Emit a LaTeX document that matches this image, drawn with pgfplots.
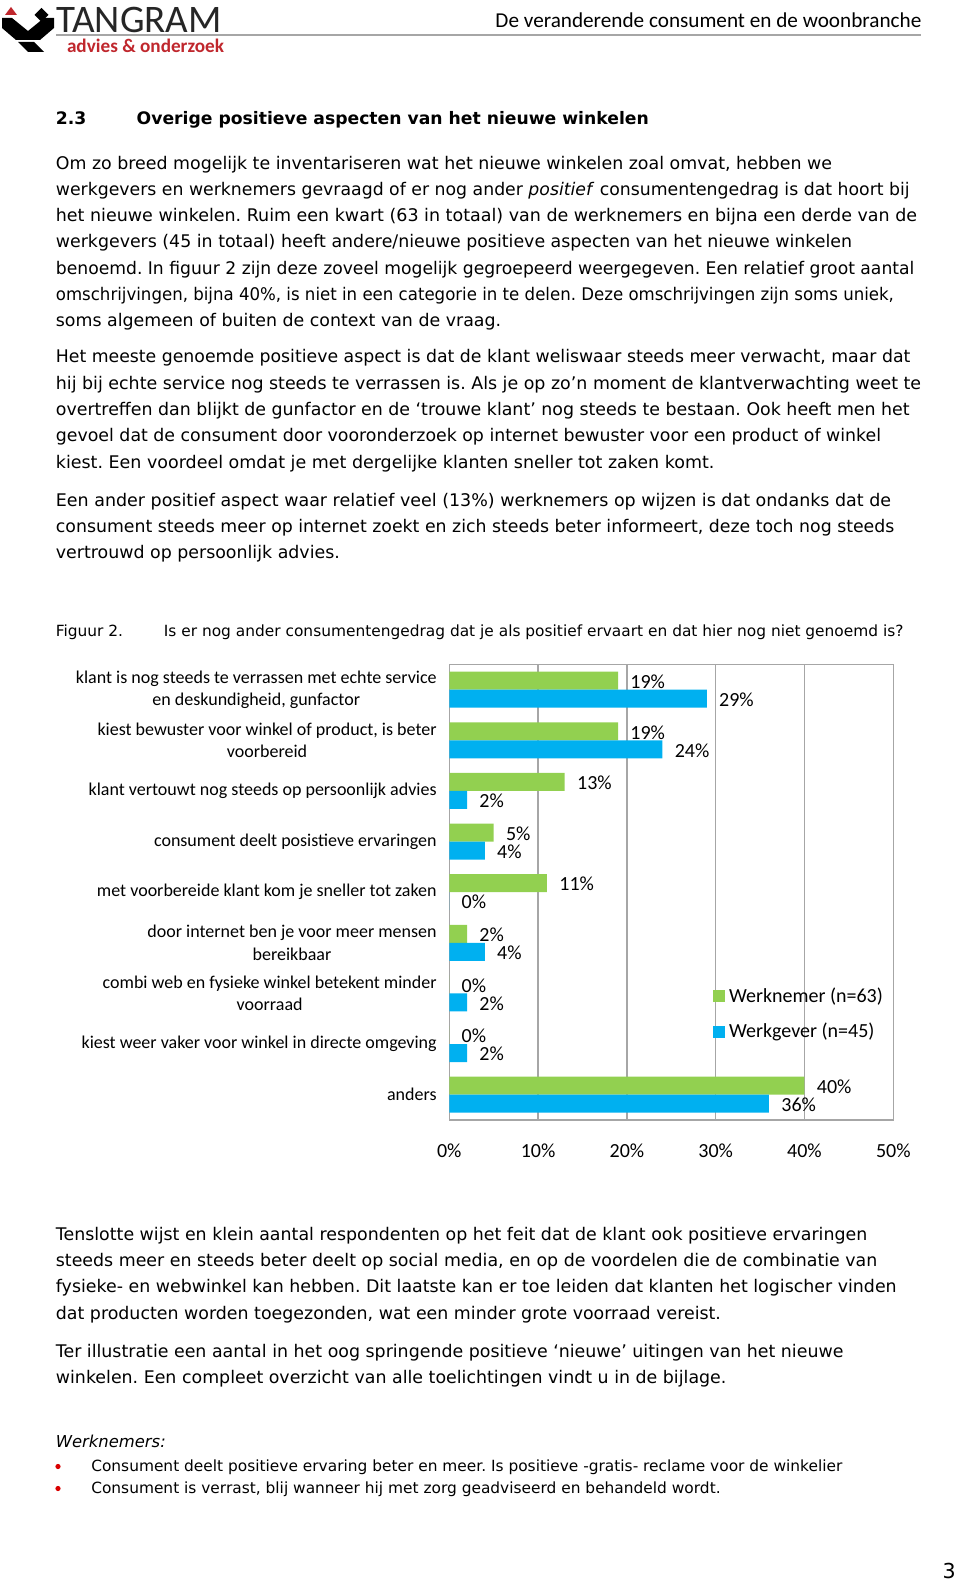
\documentclass[border=0pt]{standalone}
\usepackage{graphicx}
\usepackage{pgfplots}
\pgfplotsset{compat=1.18}
\usepackage{fontspec}
\setmainfont{DejaVu Sans}
\newfontfamily\calibri{Carlito}
\definecolor{wgreen}{HTML}{92D050}
\definecolor{wblue}{HTML}{00B0F0}
\definecolor{logored}{HTML}{C0272D}
\definecolor{gridgray}{HTML}{A6A6A6}
\newcommand\bodyfont{\fontsize{8.7}{10}\selectfont}
\newcommand\smallfont{\fontsize{7.7}{9}\selectfont}
\newcommand\fl[2]{\resizebox{#1pt}{\height}{#2}}
\frenchspacing
\begin{document}
\begin{tikzpicture}
\useasboundingbox (0,0) rectangle (480pt,-791.5pt);
\fill[white] (0,0) rectangle (480pt,-791.5pt);
\begin{scope}[x=0.5pt,y=-0.5pt, every node/.style={inner sep=0pt, anchor=base west, font=\bodyfont}]
% logo
\fill[logored] (5,15) -- (11,7) -- (17,15) -- cycle;
\fill[black] (41.5,8) -- (48.5,15) -- (41.5,22) -- (34.5,15) -- cycle;
\fill[black] (2,18) -- (12,18) -- (28,31) -- (44,18) -- (54,18) -- (54,28) -- (40,40) -- (16,40) -- (2,28) -- cycle;
\fill[black] (18,42) -- (34,42) -- (44,52) -- (28,52) -- cycle;
\node[font=\calibri\fontsize{19.5}{20}\selectfont, text=black!85] at (56,32.5) {TANGRAM};
\node[font=\calibri\bfseries\fontsize{9.6}{10}\selectfont, text=logored] at (66.6,52.5) {advies \& onderzoek};
\node[anchor=base east, font=\calibri\fontsize{10.6}{12}\selectfont] at (921.7,28) {De veranderende consument en de woonbranche};
\draw[gray!70, line width=0.7pt] (56,35) -- (921,35);
% heading
\node[font=\bfseries\fontsize{8.6}{10}\selectfont] at (55.5,125) {2.3};
\node[font=\bfseries\fontsize{8.6}{10}\selectfont] at (136.3,125) {Overige positieve aspecten van het nieuwe winkelen};
% paragraph 1
\node at (55.5,169.1) {\fl{388.1}{Om zo breed mogelijk te inventariseren wat het nieuwe winkelen zoal omvat, hebben we}};
\node at (55.5,195.3) {\fl{426.9}{werkgevers en werknemers gevraagd of er nog ander \textit{positief} consumentengedrag is dat hoort bij}};
\node at (55.5,221.6) {\fl{430.6}{het nieuwe winkelen. Ruim een kwart (63 in totaal) van de werknemers en bijna een derde van de}};
\node at (55.5,247.8) {\fl{398.1}{werkgevers (45 in totaal) heeft andere/nieuwe positieve aspecten van het nieuwe winkelen}};
\node at (55.5,274.1) {\fl{429.25}{benoemd. In figuur 2 zijn deze zoveel mogelijk gegroepeerd weergegeven. Een relatief groot aantal}};
\node at (55.5,300.3) {\fl{419}{omschrijvingen, bijna 40\%, is niet in een categorie in te delen. Deze omschrijvingen zijn soms uniek,}};
\node at (55.5,326.6) {soms algemeen of buiten de context van de vraag.};
% paragraph 2
\node at (55.5,363) {\fl{427.25}{Het meeste genoemde positieve aspect is dat de klant weliswaar steeds meer verwacht, maar dat}};
\node at (55.5,389.3) {\fl{432.6}{hij bij echte service nog steeds te verrassen is. Als je op zo’n moment de klantverwachting weet te}};
\node at (55.5,415.5) {\fl{426.9}{overtreffen dan blijkt de gunfactor en de ‘trouwe klant’ nog steeds te bestaan. Ook heeft men het}};
\node at (55.5,441.8) {\fl{412.6}{gevoel dat de consument door vooronderzoek op internet bewuster voor een product of winkel}};
\node at (55.5,468) {\fl{329.25}{kiest. Een voordeel omdat je met dergelijke klanten sneller tot zaken komt.}};
% paragraph 3
\node at (55.5,506.3) {\fl{417.6}{Een ander positief aspect waar relatief veel (13\%) werknemers op wijzen is dat ondanks dat de}};
\node at (55.5,532.5) {\fl{419.25}{consument steeds meer op internet zoekt en zich steeds beter informeert, deze toch nog steeds}};
\node at (55.5,558.8) {vertrouwd op persoonlijk advies.};
% caption
\node[font=\fontsize{7.7}{9}\selectfont] at (55.5,636) {Figuur 2.};
\node[font=\fontsize{7.7}{9}\selectfont] at (163.5,636) {Is er nog ander consumentengedrag dat je als positief ervaart en dat hier nog niet genoemd is?};
% paragraph 4
\node at (55.5,1240.2) {Tenslotte wijst en klein aantal respondenten op het feit dat de klant ook positieve ervaringen};
\node at (55.5,1266.4) {steeds meer en steeds beter deelt op social media, en op de voordelen die de combinatie van};
\node at (55.5,1292.7) {fysieke- en webwinkel kan hebben. Dit laatste kan er toe leiden dat klanten het logischer vinden};
\node at (55.5,1319) {dat producten worden toegezonden, wat een minder grote voorraad vereist.};
% paragraph 5
\node at (55.5,1357.3) {Ter illustratie een aantal in het oog springende positieve ‘nieuwe’ uitingen van het nieuwe};
\node at (55.5,1383.5) {winkelen. Een compleet overzicht van alle toelichtingen vindt u in de bijlage.};
% list
\node[font=\fontsize{8.2}{9}\selectfont\itshape] at (55.5,1447.6) {Werknemers:};
\fill[red!85!black] (58,1466.5) circle (2.6);
\fill[red!85!black] (58,1488.5) circle (2.6);
\node[font=\smallfont] at (90.9,1471) {Consument deelt positieve ervaring beter en meer. Is positieve -gratis- reclame voor de winkelier};
\node[font=\smallfont] at (90.9,1493) {Consument is verrast, blij wanneer hij met zorg geadviseerd en behandeld wordt.};
% page number
\node[anchor=base east, font=\fontsize{10.3}{12}\selectfont] at (956,1578) {3};
\end{scope}

\begin{axis}[
  at={(224.65pt,-560pt)}, anchor=south west,
  width=222pt, height=227.85pt, scale only axis,
  xbar, bar width=9pt,
  xmin=0, xmax=50, ymin=-0.5, ymax=8.5, y dir=reverse,
  xtick={0,10,20,30,40,50},
  xticklabels={0\%,10\%,20\%,30\%,40\%,50\%},
  ytick={0,1,2,3,4,5,6,7,8},
  yticklabels={
    {klant is nog steeds te verrassen met echte service\\en deskundigheid, gunfactor},
    {kiest bewuster voor winkel of product, is beter\\voorbereid},
    {klant vertouwt nog steeds op persoonlijk advies},
    {consument deelt posistieve ervaringen},
    {met voorbereide klant kom je sneller tot zaken},
    {door internet ben je voor meer mensen\\bereikbaar},
    {combi web en fysieke winkel betekent minder\\voorraad},
    {kiest weer vaker voor winkel in directe omgeving},
    {anders}},
  xmajorgrids,
  major grid style={gridgray, line width=0.75pt},
  axis line style={gridgray, line width=0.75pt},
  major tick length=0pt,
  xticklabel style={font=\calibri\fontsize{10}{12}\selectfont, inner sep=0pt, yshift=-11.5pt},
  yticklabel style={font=\calibri\fontsize{9}{11.3}\selectfont, align=center, inner sep=0pt, xshift=-6.15pt},
  point meta=x,
  nodes near coords={\pgfmathprintnumber[assume math mode=true]{\pgfplotspointmeta}\%},
  every node near coord/.append style={font=\calibri\fontsize{10}{12}\selectfont, anchor=west, inner sep=0pt, xshift=6pt, yshift=-0.5pt, text=black},
  legend style={draw=none, fill=none, at={(axis description cs:0.5932,0.2326)}, anchor=west, inner sep=0pt,
    font=\calibri\fontsize{10}{12}\selectfont, row sep=5pt, cells={anchor=west}},
  legend image code/.code={\fill[#1] (0pt,-3pt) rectangle (6pt,3pt);},
]
\addplot[fill=wgreen, draw=none, bar shift=4.5pt] coordinates {
  (19,0) (19,1) (13,2) (5,3) (11,4) (2,5) (0,6) (0,7) (40,8)};
\addlegendentry{Werknemer (n=63)}
\addplot[fill=wblue, draw=none, bar shift=-4.5pt] coordinates {
  (29,0) (24,1) (2,2) (4,3) (0,4) (4,5) (2,6) (2,7) (36,8)};
\addlegendentry{Werkgever (n=45)}
\end{axis}
\end{tikzpicture}
\end{document}
